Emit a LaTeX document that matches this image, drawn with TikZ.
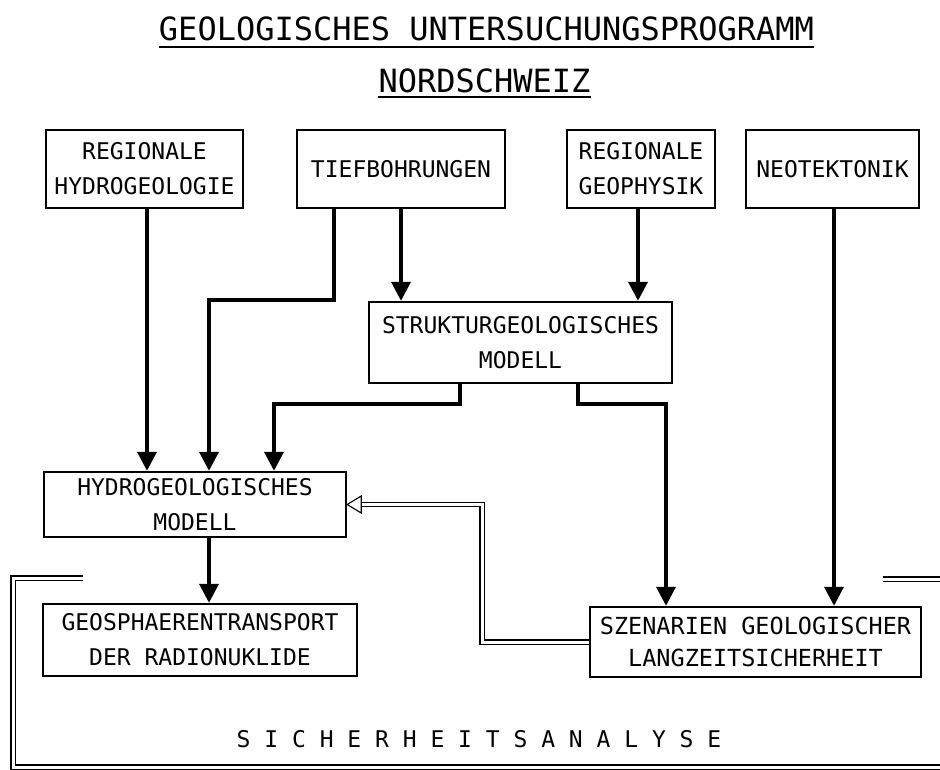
\documentclass[tikz,border=0pt]{standalone}
\usepackage{fontspec}
\newfontfamily\boxfont{DejaVu Sans Mono}
\newfontfamily\titlefont{DejaVu Sans Mono}
\usetikzlibrary{arrows.meta,calc}
\begin{document}
\begin{tikzpicture}[x=1pt,y=-1pt,
  box/.style={draw, line width=2.4pt, inner sep=0pt, align=center,
    font=\boxfont\fontsize{23pt}{35pt}\selectfont},
  arr/.style={line width=3.6pt, -{Triangle[length=19pt,width=19pt]}},
  dbl/.style={draw, double=white, double distance=3pt, line width=1.1pt},
  ttl/.style={inner sep=0pt, anchor=base, font=\titlefont\fontsize{32pt}{32pt}\selectfont},
  uline/.style={line width=2.7pt},
]
\useasboundingbox (0,0) rectangle (940,769);
\clip (0,0) rectangle (940,769);

% title
\node[ttl] (t1) at (486.5,40) {GEOLOGISCHES UNTERSUCHUNGSPROGRAMM};
\node[ttl] (t2) at (484.5,92) {NORDSCHWEIZ};
\draw[uline] ([yshift=-7pt]t1.base west) -- ([yshift=-7pt]t1.base east);
\draw[uline] ([yshift=-5pt]t2.base west) -- ([yshift=-5pt]t2.base east);

% boxes
\node[box, minimum width=197pt, minimum height=78pt] (rh) at (144.5,169) {REGIONALE\\HYDROGEOLOGIE};
\node[box, minimum width=208pt, minimum height=78pt] (tb) at (401,169) {TIEFBOHRUNGEN};
\node[box, minimum width=148pt, minimum height=78pt] (rg) at (641,169) {REGIONALE\\GEOPHYSIK};
\node[box, minimum width=173pt, minimum height=78pt] (nt) at (832.5,169) {NEOTEKTONIK};
\node[box, minimum width=303pt, minimum height=81pt] (sm) at (520.5,342.5) {STRUKTURGEOLOGISCHES\\MODELL};
\node[box, minimum width=302pt, minimum height=65pt] (hm) at (195,504.5) {HYDROGEOLOGISCHES\\MODELL};
\node[box, minimum width=314pt, minimum height=72pt] (gt) at (200,640) {GEOSPHAERENTRANSPORT\\DER RADIONUKLIDE};
\node[box, minimum width=331pt, minimum height=70pt, font=\boxfont\fontsize{23.5pt}{32pt}\selectfont] (sz) at (755.5,642) {SZENARIEN GEOLOGISCHER\\LANGZEITSICHERHEIT};

% connectors
\draw[arr] (147,0 |- rh.south) -- (147,0 |- hm.north);
\draw[arr] (334,0 |- tb.south) -- (334,300) -- (209,300) -- (209,0 |- hm.north);
\draw[arr] (401,0 |- tb.south) -- (401,0 |- sm.north);
\draw[arr] (638,0 |- rg.south) -- (638,0 |- sm.north);
\draw[arr] (834,0 |- nt.south) -- (834,0 |- sz.north);
\draw[arr] (460,0 |- sm.south) -- (460,404) -- (274,404) -- (274,0 |- hm.north);
\draw[arr] (578,0 |- sm.south) -- (578,404) -- (666,404) -- (666,0 |- sz.north);
\draw[arr] (209,0 |- hm.south) -- (209,0 |- gt.north);

% double feedback arrow
\coordinate (fb) at ($(hm.east)+(14,0)$);
\draw[dbl] (sz.west) -- (482,0 |- sz.west) -- (482,0 |- hm.east) -- (fb);
\draw[line width=1.1pt, fill=white, line join=miter] (hm.east) -- ++(14,-8.5) -- ++(0,17) -- cycle;

% frame
\draw[dbl] (83,578) -- (13,578) -- (13,767) -- (950,767);
\draw[dbl] (883,579) -- (950,579);

\node[inner sep=0pt, anchor=base, font=\boxfont\fontsize{23pt}{23pt}\selectfont] (sa) at (479,747)
  {S I C H E R H E I T S A N A L Y S E};
\end{tikzpicture}
\end{document}
